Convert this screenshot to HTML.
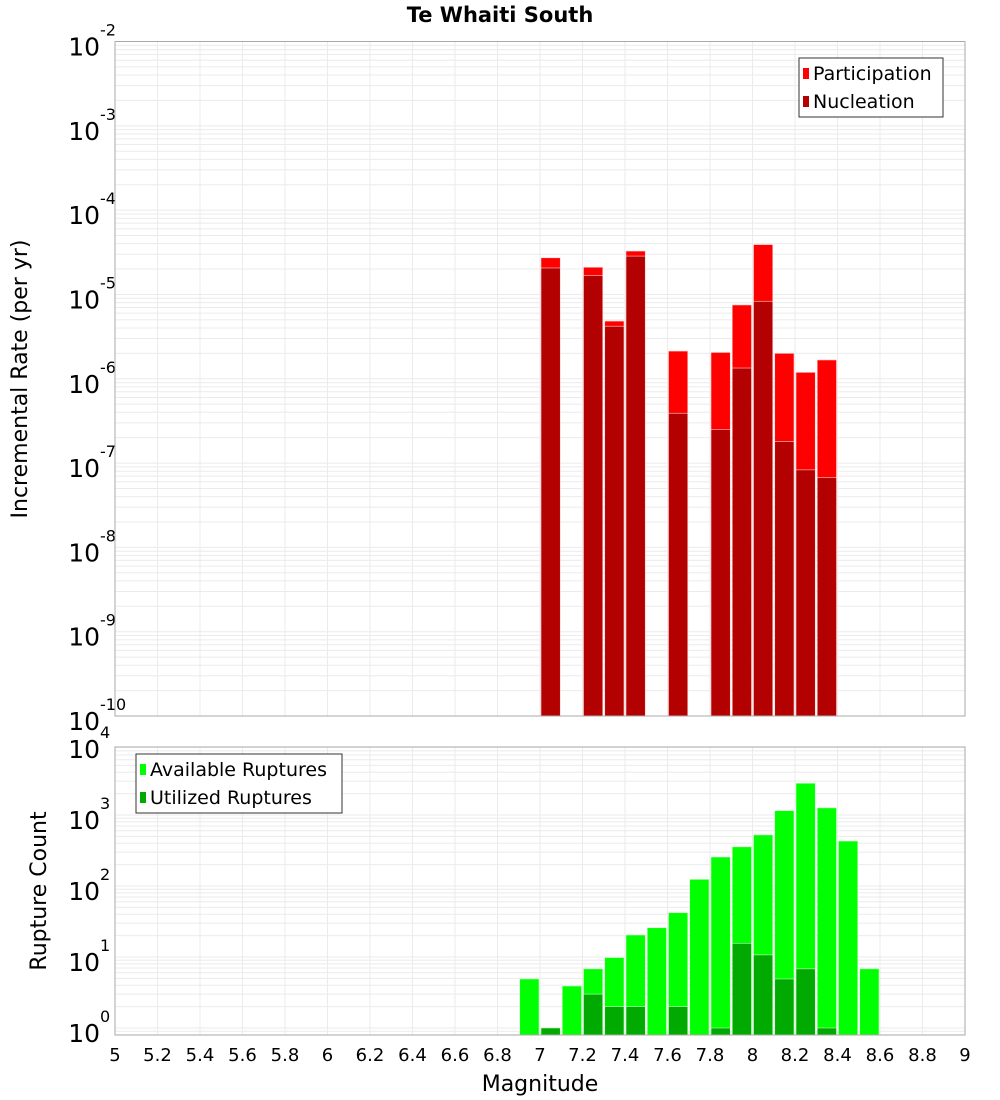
<!DOCTYPE html>
<html><head><meta charset="utf-8"><style>
body{margin:0;background:#fff}
svg{display:block;font-family:"DejaVu Sans","Liberation Sans",sans-serif}
</style></head><body>
<svg id="c" width="1000" height="1100" xmlns="http://www.w3.org/2000/svg">
<text x="500" y="22" text-anchor="middle" font-size="21" font-weight="bold">Te Whaiti South</text>
<g id="top"></g>
<g id="bot"></g>
<text transform="translate(27,379) rotate(-90)" text-anchor="middle" font-size="22">Incremental Rate (per yr)</text>
<text transform="translate(46,891) rotate(-90)" text-anchor="middle" font-size="22">Rupture Count</text>
<text x="540" y="1091" text-anchor="middle" font-size="22">Magnitude</text>
<g>
<rect x="799" y="58" width="144" height="59" fill="#fff" stroke="#333" stroke-width="1"/>
<rect x="803" y="68" width="6" height="11" fill="#ff0000"/>
<text x="813" y="80" font-size="19">Participation</text>
<rect x="803" y="96" width="6" height="11" fill="#b30000"/>
<text x="813" y="108" font-size="19">Nucleation</text>
</g>
<g>
<rect x="136" y="754" width="206" height="59" fill="#fff" stroke="#333" stroke-width="1"/>
<rect x="140" y="764" width="6" height="11" fill="#00ff00"/>
<text x="150" y="776" font-size="19">Available Ruptures</text>
<rect x="140" y="792" width="6" height="11" fill="#00aa00"/>
<text x="150" y="804" font-size="19">Utilized Ruptures</text>
</g>
</svg>
<script>
const rateMags=[7.05,7.25,7.35,7.45,7.65,7.85,7.95,8.05,8.15,8.25,8.35];
const participation=[2.72e-5,2.1e-5,4.83e-6,3.27e-5,2.13e-6,2.05e-6,7.5e-6,3.9e-5,2.0e-6,1.19e-6,1.67e-6];
const nucleation=[2.06e-5,1.67e-5,4.2e-6,2.85e-5,3.9e-7,2.5e-7,1.34e-6,8.3e-6,1.8e-7,8.3e-8,6.7e-8];
const countMags=[6.95,7.05,7.15,7.25,7.35,7.45,7.55,7.65,7.75,7.85,7.95,8.05,8.15,8.25,8.35,8.45,8.55];
const available=[4.9,1,3.9,6.8,9.8,20.4,25.8,42,124,256,356,524,1150,2800,1260,430,6.8];
const utilized=[0,1,0,3,2,2,0,2,0,1,15.6,10.7,4.9,6.8,1,0,0];
const xTicks=["5","5.2","5.4","5.6","5.8","6","6.2","6.4","6.6","6.8","7","7.2","7.4","7.6","7.8","8","8.2","8.4","8.6","8.8","9"];
const rateDecades=[-2,-3,-4,-5,-6,-7,-8,-9,-10];
const countDecades=[0,1,2,3,4];

const NS="http://www.w3.org/2000/svg";
const X0=115,X1=965;
const xs=m=>X0+(m-5)/4*(X1-X0);
function mk(p,tag,at){const e=document.createElementNS(NS,tag);for(const k in at)e.setAttribute(k,at[k]);p.appendChild(e);return e;}
function plot(g,top,bot,lmin,lmax,decs,name){
  const ys=v=>bot-(Math.log10(v)-lmin)/(lmax-lmin)*(bot-top);
  mk(g,'rect',{x:X0,y:top,width:X1-X0,height:bot-top,fill:'#fff'});
  for(let d=Math.floor(lmin);d<Math.ceil(lmax);d++)for(let k=1;k<10;k++){
    const l=d+Math.log10(k);if(l<lmin||l>lmax)continue;const y=ys(Math.pow(10,l));
    mk(g,'line',{x1:X0,x2:X1,y1:y,y2:y,stroke:'#ebebeb','stroke-width':1});}
  xTicks.forEach(t=>{const x=xs(+t);mk(g,'line',{x1:x,x2:x,y1:top,y2:bot,stroke:'#ebebeb','stroke-width':1});});
  decs.forEach(d=>{const y=ys(Math.pow(10,d));
    const t=mk(g,'text',{x:100,y:y+14,'text-anchor':'end','font-size':25});
    t.textContent='10';
    
    
    const s=mk(g,'text',{x:100,y:y-6,'font-size':16});s.textContent=String(d);
    
    });
  return ys;
}
function bars(g,mags,vals,ys,bot,fill,name){
  mags.forEach((m,i)=>{if(!(vals[i]>0))return;const x=xs(m-0.05)+1,w=xs(m+0.05)-xs(m-0.05)-2;const y=Math.max(ys(vals[i]),0);
    const r=mk(g,'rect',{x:x,y:y,width:w,height:bot-y,fill:fill,stroke:'#ffd0d0','stroke-width':0.6});
    if(fill.indexOf('0ff0')>=0||fill.indexOf('0aa0')>=0)r.setAttribute('stroke','#c8ffc8');
    
    });
}
const gt=document.getElementById('top');
const ysT=plot(gt,41.5,716,-10,-2,rateDecades,'rate');
bars(gt,rateMags,participation,ysT,716,'#ff0000','participation-bar');
bars(gt,rateMags,nucleation,ysT,716,'#b30000','nucleation-bar');
mk(gt,'rect',{x:X0,y:41.5,width:X1-X0,height:716-41.5,fill:'none',stroke:'#aaa','stroke-width':1});
const gb=document.getElementById('bot');
const ysB=plot(gb,747,1035,-0.099,3.958,countDecades,'count');
bars(gb,countMags,available,ysB,1035,'#00ff00','available-bar');
bars(gb,countMags,utilized,ysB,1035,'#00aa00','utilized-bar');
mk(gb,'rect',{x:X0,y:747,width:X1-X0,height:1035-747,fill:'none',stroke:'#aaa','stroke-width':1});
xTicks.forEach(t=>{const e=mk(gb,'text',{x:xs(+t),y:1061,'text-anchor':'middle','font-size':18});e.textContent=t;
  
  });
</script>
</body></html>
